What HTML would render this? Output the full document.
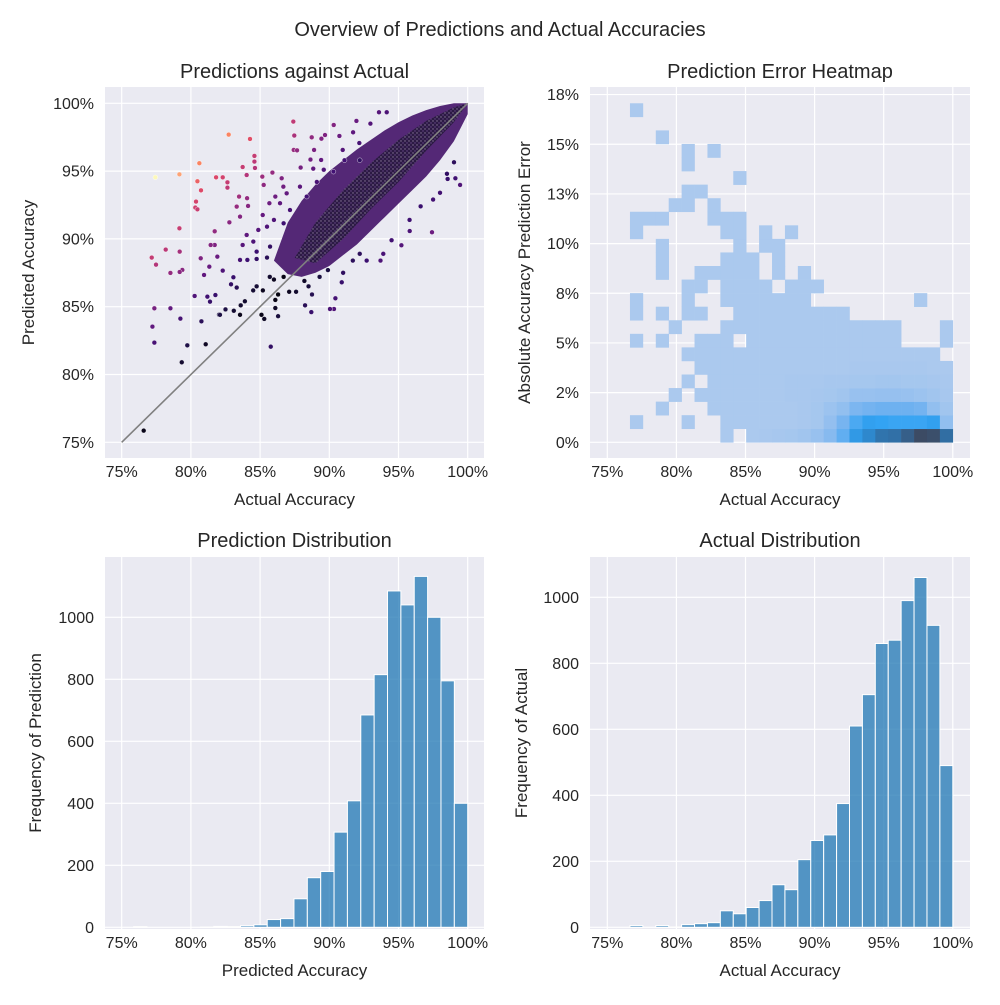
<!DOCTYPE html>
<html><head><meta charset="utf-8"><style>
html,body{margin:0;padding:0;background:#fff;}
svg text{font-family:"Liberation Sans",Arial,sans-serif;fill:#262626;}
</style></head><body>
<svg id="fig" width="1000" height="1000" viewBox="0 0 1000 1000" xmlns="http://www.w3.org/2000/svg">
<defs>
<pattern id="speck" width="4" height="4" patternUnits="userSpaceOnUse">
<rect width="4" height="4" fill="#2c1a44"/>
<circle cx="1" cy="1" r="0.7" fill="#8a7a9a"/>
<circle cx="3" cy="3" r="0.7" fill="#6a4a8a"/>
</pattern>
</defs>
<rect x="0" y="0" width="1000" height="1000" fill="#ffffff"/>
<text x="500" y="36" font-size="20" text-anchor="middle">Overview of Predictions and Actual Accuracies</text>
</svg>
<script>
// ---------- DATA ----------
const scatterActual = [77.43,79.17,80.61,82.73,84.27,80.47,80.73,80.32,80.47,80.37,81.82,82.30,82.64,82.64,83.74,84.03,84.59,84.59,84.63,79.17,79.19,78.18,77.17,77.48,78.52,79.38,79.19,77.36,78.52,77.22,77.36,79.24,79.74,79.34,81.07,80.76,80.27,81.19,81.38,81.77,82.03,76.59,85.77,87.40,87.47,90.32,91.96,90.34,90.44,90.05,97.42,95.21,95.81,99.45,99.11,98.55,99.01,87.43,87.67,88.73,89.43,89.69,90.73,90.97,91.72,92.17,93.59,94.15,92.97,88.64,88.90,89.41,87.93,88.84,85.16,85.26,85.89,86.56,86.10,83.48,83.31,84.06,84.13,83.55,84.03,82.78,81.72,81.72,81.43,81.91,80.71,81.33,82.30,80.95,83.07,82.90,83.31,83.55,84.08,84.75,85.50,83.74,84.75,85.72,84.51,84.87,85.19,85.67,86.44,86.92,87.16,86.0,86.7,85.5,86.68,87.88,88.37,89.1,89.6,90.3,91.1,92.2,82.1,82.5,83.1,83.6,83.55,83.9,84.5,84.75,85.2,85.1,85.3,86.1,86.3,86.1,86.3,85.7,86.0,86.7,87.1,87.6,88.2,88.5,88.25,88.7,88.75,89.3,89.9,90.9,91.0,91.7,92.7,92.2,93.9,93.7,94.5,95.8,96.6,97.5,98.0,98.5];
const scatterPredicted = [94.54,94.76,95.58,97.69,97.37,94.25,93.58,92.31,92.18,92.75,94.54,94.54,94.17,93.78,95.30,94.71,96.12,95.70,95.23,90.78,89.06,89.21,88.62,88.10,87.49,87.71,87.56,84.88,84.88,83.53,82.35,84.12,82.15,80.90,82.23,83.92,85.79,85.74,85.37,85.86,84.41,75.86,82.05,98.65,97.62,98.40,98.70,84.83,85.62,84.83,90.49,89.53,90.58,93.98,94.47,94.42,95.65,96.56,96.53,97.49,97.39,97.66,97.59,96.56,97.86,97.07,99.34,99.34,98.50,95.85,96.56,95.82,95.26,95.18,94.59,93.98,94.89,94.47,93.12,93.12,92.38,93.00,92.43,91.64,90.29,91.22,90.56,89.55,89.55,88.69,88.57,87.95,87.66,87.34,87.17,86.65,86.41,88.45,88.45,88.52,88.62,89.55,89.06,89.43,89.80,90.66,91.76,92.63,92.63,93.36,92.13,91.4,91.15,90.9,93.85,93.85,93.12,94.2,95.1,94.96,95.8,95.8,84.4,84.8,84.7,85.1,84.4,85.4,86.2,86.5,86.2,84.4,84.1,84.9,84.3,85.5,85.9,87.2,87.0,87.2,86.1,86.1,86.9,86.5,85.1,84.6,85.9,87.2,87.7,86.8,87.5,88.4,88.4,88.9,88.9,88.4,89.9,91.4,92.4,92.9,93.4,94.8];
const cloudOuterActual = [86.0,87.0,88.0,89.0,90.0,91.0,92.0,93.0,94.0,95.0,96.0,97.0,98.0,99.0,100.0,100.0,99.5,99.0,98.0,97.0,96.0,95.0,94.0,93.0,92.0,91.0,90.0,89.0,88.0,87.0];
const cloudOuterPredicted = [88.4,91.2,92.8,94.0,95.0,95.8,96.6,97.3,98.0,98.6,99.1,99.5,99.8,100.0,100.0,99.2,98.2,97.2,95.8,94.6,93.6,92.6,91.6,90.6,89.6,88.8,88.0,87.5,87.2,87.4];
const cloudInnerActual = [87.5,89.0,91.0,93.0,95.0,97.0,99.0,100.0,99.0,97.0,95.0,93.0,91.0,89.0];
const cloudInnerPredicted = [88.6,91.2,93.6,95.6,97.3,98.7,99.7,100.0,98.6,96.5,94.2,92.2,90.0,88.2];
const predHistCounts = [2,0,0,0,0,1,3,2,5,8,25,28,92,160,180,307,408,685,815,1085,1040,1132,1000,795,400];
const actHistCounts = [5,0,5,1,8,11,14,50,41,60,81,129,114,205,263,280,375,610,705,860,870,990,1060,915,490];
const heatRow0  = [0,0,0,0,0,0,0,2,0,3,4,5,6,8,12,20,45,95,120,160,170,215,270,260,175];
const heatRow1  = [2,0,0,0,2,0,0,2,2,2,2,3,3,4,6,14,28,62,85,80,75,75,75,85,15];
const heatRow2  = [0,0,2,0,0,0,2,2,2,2,3,3,3,4,6,10,15,25,30,35,35,35,30,15,8];
const heatRow3  = [0,0,0,2,0,2,2,2,2,3,3,3,4,4,5,6,8,12,12,13,13,12,10,8,5];
const heatRow4  = [0,0,0,0,2,0,2,2,2,2,3,3,4,4,4,5,5,6,6,7,7,6,6,5,4];
const heatRow5  = [0,0,0,0,0,2,2,2,2,2,3,3,3,3,3,3,3,4,4,4,4,4,4,3,3];
const heatRow6  = [0,0,0,0,2,2,2,2,2,2,2,3,3,3,3,3,3,3,3,3,3,3,3,3,0];
const heatRow7  = [2,0,2,0,0,2,2,2,0,2,2,3,3,3,3,3,3,2,2,2,2,0,0,0,2];
const heatRow8  = [0,0,0,2,0,0,0,2,2,2,2,2,2,2,2,2,2,2,2,2,2,0,0,0,2];
const heatRow9  = [2,0,2,0,2,2,0,0,2,2,2,2,2,2,2,2,2,0,0,0,0,0,0,0,0];
const heatRow10 = [2,0,0,0,2,0,0,2,2,2,2,2,2,2,0,0,0,0,0,0,0,0,2,0,0];
const heatRow11 = [0,0,0,0,2,2,0,2,2,2,2,0,2,2,2,0,0,0,0,0,0,0,0,0,0];
const heatRow12 = [0,0,2,0,0,2,2,2,2,2,0,2,0,2,0,0,0,0,0,0,0,0,0,0,0];
const heatRow13 = [0,0,2,0,0,0,0,2,2,2,0,2,0,0,0,0,0,0,0,0,0,0,0,0,0];
const heatRow14 = [0,0,2,0,0,0,0,0,2,0,2,2,0,0,0,0,0,0,0,0,0,0,0,0,0];
const heatRow15 = [2,0,0,0,0,0,0,2,2,0,2,0,2,0,0,0,0,0,0,0,0,0,0,0,0];
const heatRow16 = [2,2,2,0,0,0,2,2,2,0,0,0,0,0,0,0,0,0,0,0,0,0,0,0,0];
const heatRow17 = [0,0,0,2,2,0,2,0,0,0,0,0,0,0,0,0,0,0,0,0,0,0,0,0,0];
const heatRow18 = [0,0,0,0,2,2,0,0,0,0,0,0,0,0,0,0,0,0,0,0,0,0,0,0,0];
const heatRow19 = [0,0,0,0,0,0,0,0,2,0,0,0,0,0,0,0,0,0,0,0,0,0,0,0,0];
const heatRow20 = [0,0,0,0,2,0,0,0,0,0,0,0,0,0,0,0,0,0,0,0,0,0,0,0,0];
const heatRow21 = [0,0,0,0,2,0,2,0,0,0,0,0,0,0,0,0,0,0,0,0,0,0,0,0,0];
const heatRow22 = [0,0,2,0,0,0,0,0,0,0,0,0,0,0,0,0,0,0,0,0,0,0,0,0,0];
const heatRow23 = [0,0,0,0,0,0,0,0,0,0,0,0,0,0,0,0,0,0,0,0,0,0,0,0,0];
const heatRow24 = [2,0,0,0,0,0,0,0,0,0,0,0,0,0,0,0,0,0,0,0,0,0,0,0,0];
const heatRows = [heatRow0,heatRow1,heatRow2,heatRow3,heatRow4,heatRow5,heatRow6,heatRow7,heatRow8,heatRow9,heatRow10,heatRow11,heatRow12,heatRow13,heatRow14,heatRow15,heatRow16,heatRow17,heatRow18,heatRow19,heatRow20,heatRow21,heatRow22,heatRow23,heatRow24];
const accTicks = [75,80,85,90,95,100];
const accTickLabels = ["75%","80%","85%","90%","95%","100%"];
const errTicks = [0,2.5,5,7.5,10,12.5,15,17.5];
const errTickLabels = ["0%","2%","5%","8%","10%","13%","15%","18%"];
const countTicks = [0,200,400,600,800,1000];
const countTickLabels = ["0","200","400","600","800","1000"];
const predBinStart = 75.86, actBinStart = 76.64, errBinWidth = 0.6825;

// ---------- RENDER ----------
const NS = "http://www.w3.org/2000/svg";
const svg = document.getElementById('fig');
function mk(tag, attrs, parent){ const e=document.createElementNS(NS,tag); for(const k in attrs) e.setAttribute(k,attrs[k]); (parent||svg).appendChild(e); return e; }
function txt(s, attrs, parent){ const e=mk('text',attrs,parent); e.textContent=s; return e; }

const sxL = a => 121.7 + (a-75)*13.84;
const sxR = a => 607.3 + (a-75)*13.82;
const syTL = p => 442.3 - (p-75)*13.56;
const syTR = e => 442.3 - e*19.87;
const syBL = c => 927.3 - c*0.31;
const syBR = c => 927.3 - c*0.33;

const panels = [
 {name:'scatter-panel', x0:105,x1:484,y0:87,y1:458, sx:sxL, sy:syTL, yt:accTicks, yl:accTickLabels, title:'Predictions against Actual', xlab:'Actual Accuracy', ylab:'Predicted Accuracy', ylx:34, tyb:78},
 {name:'heatmap-panel', x0:590,x1:970,y0:87,y1:458, sx:sxR, sy:syTR, yt:errTicks, yl:errTickLabels, title:'Prediction Error Heatmap', xlab:'Actual Accuracy', ylab:'Absolute Accuracy Prediction Error', ylx:530, tyb:78},
 {name:'prediction-histogram-panel', x0:105,x1:484,y0:557,y1:929, sx:sxL, sy:syBL, yt:countTicks, yl:countTickLabels, title:'Prediction Distribution', xlab:'Predicted Accuracy', ylab:'Frequency of Prediction', ylx:41, tyb:547},
 {name:'actual-histogram-panel', x0:590,x1:970,y0:557,y1:929, sx:sxR, sy:syBR, yt:countTicks, yl:countTickLabels, title:'Actual Distribution', xlab:'Actual Accuracy', ylab:'Frequency of Actual', ylx:527, tyb:547}
];
panels.forEach(P=>{
  const g = mk('g',{});
  
  
  P.g = g;
  const bg = mk('rect',{x:P.x0,y:P.y0,width:P.x1-P.x0,height:P.y1-P.y0,fill:'#eaeaf2'},g);
  
  
  accTicks.forEach((t,i)=>{
    const x=P.sx(t);
    const gl = mk('line',{x1:x,x2:x,y1:P.y0,y2:P.y1,stroke:'#fff','stroke-width':1.2},g);
    
    
    const tl = txt(accTickLabels[i],{x:x,y:P.y1+19,'font-size':16,'text-anchor':'middle'},g);
    
    
  });
  P.yt.forEach((t,i)=>{
    const y=P.sy(t);
    const gl = mk('line',{x1:P.x0,x2:P.x1,y1:y,y2:y,stroke:'#fff','stroke-width':1.2},g);
    
    
    const tl = txt(P.yl[i],{x:P.x0-11,y:y+5.5,'font-size':16,'text-anchor':'end'},g);
    
    
  });
  const t1 = txt(P.title,{x:(P.x0+P.x1)/2,y:P.tyb,'font-size':20,'text-anchor':'middle'},g);
  
  
  const t2 = txt(P.xlab,{x:(P.x0+P.x1)/2,y:P.y1+47,'font-size':17,'text-anchor':'middle'},g);
  
  
  const cy=(P.y0+P.y1)/2;
  const t3 = txt(P.ylab,{x:P.ylx,y:cy,'font-size':17,'text-anchor':'middle',transform:`rotate(-90 ${P.ylx} ${cy})`},g);
  
  
});

const magmaStops=[[0,[0,0,4]],[0.13,[28,16,68]],[0.25,[59,15,112]],[0.38,[100,26,128]],[0.5,[140,41,129]],[0.63,[183,55,121]],[0.75,[222,73,104]],[0.88,[252,137,97]],[1,[252,253,191]]];
function interp(stops,t){ t=Math.max(0,Math.min(1,t)); for(let i=1;i<stops.length;i++){ if(t<=stops[i][0]){ const [a,c0]=stops[i-1],[b,c1]=stops[i]; const f=(t-a)/(b-a||1); return `rgb(${c0.map((v,k)=>Math.round(v+(c1[k]-v)*f)).join(',')})`; } } const c=stops[stops.length-1][1]; return `rgb(${c.join(',')})`; }

const P0=panels[0];
function poly(ax,ay,fill,name){
  const pts=ax.map((a,i)=>`${P0.sx(a)},${P0.sy(ay[i])}`).join(' ');
  const p=mk('polygon',{points:pts,fill:fill},P0.g);
  
  
}
poly(cloudOuterActual,cloudOuterPredicted,'rgb(84,40,118)','dense-cloud-outer');
poly(cloudInnerActual,cloudInnerPredicted,'url(#speck)','dense-cloud-inner');
const maxErr=17.2;
scatterActual.forEach((a,i)=>{
  const p=scatterPredicted[i];
  const c=mk('circle',{cx:P0.sx(a),cy:P0.sy(p),r:2.4,fill:interp(magmaStops,Math.abs(p-a)/maxErr),stroke:'#fff','stroke-width':0.4},P0.g);
  
  
});
const diag=mk('line',{x1:P0.sx(75),y1:P0.sy(75),x2:P0.sx(100),y2:P0.sy(100),stroke:'#808080','stroke-width':1.6},P0.g);



const P1=panels[1];
const heatStops=[[0,[171,201,238]],[0.012,[171,201,238]],[0.1,[120,180,240]],[0.3,[50,163,243]],[0.5,[45,125,190]],[1,[60,75,100]]];
const nCols=heatRows[0].length, accBinW=(100-actBinStart)/nCols;
let heatMax=0; heatRows.forEach(r=>r.forEach(v=>{if(v>heatMax)heatMax=v;}));
heatRows.forEach((row,ri)=>{
  row.forEach((v,ci)=>{
    if(!v) return;
    const xa=P1.sx(actBinStart+ci*accBinW), xb=P1.sx(actBinStart+(ci+1)*accBinW);
    const ya=P1.sy(ri*errBinWidth), yb=P1.sy((ri+1)*errBinWidth);
    const r=mk('rect',{x:xa,y:yb,width:xb-xa+0.3,height:ya-yb+0.3,fill:interp(heatStops,v/heatMax)},P1.g);
    
    
  });
});

function hist(P,counts,start,name){
  const w=(100-start)/counts.length;
  counts.forEach((c,i)=>{
    if(!c) return;
    const xa=P.sx(start+i*w), xb=P.sx(start+(i+1)*w);
    const r=mk('rect',{x:xa,y:P.sy(c),width:xb-xa,height:P.sy(0)-P.sy(c),fill:'#1f77b4','fill-opacity':0.75,stroke:'#fff','stroke-width':1},P.g);
    
    
  });
}
hist(panels[2],predHistCounts,predBinStart,'prediction-histogram-bar');
hist(panels[3],actHistCounts,actBinStart,'actual-histogram-bar');
</script>
</body></html>
